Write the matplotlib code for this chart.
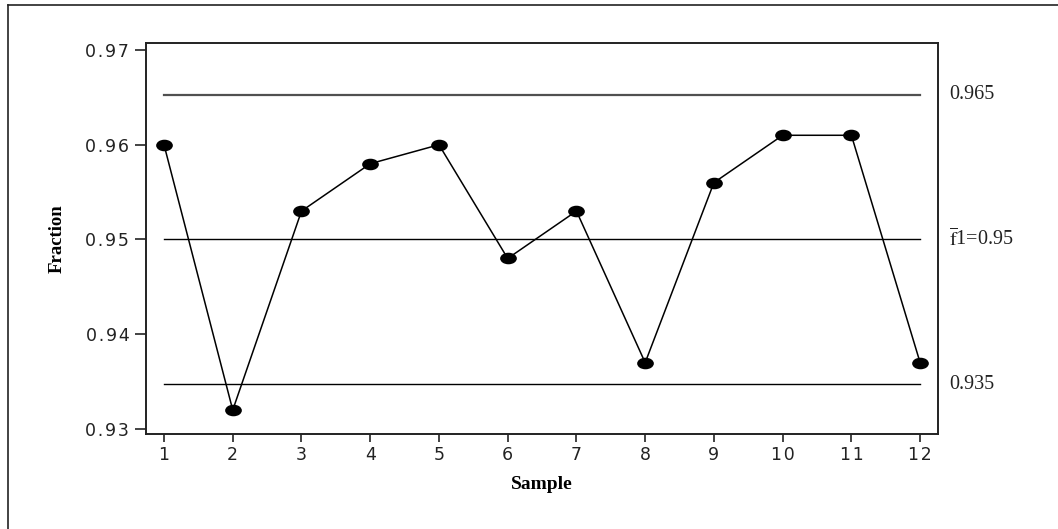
import matplotlib.pyplot as plt
from matplotlib.lines import Line2D
from matplotlib.path import Path
from matplotlib.transforms import Affine2D

# p-chart for fraction conforming per sample
samples = [1, 2, 3, 4, 5, 6, 7, 8, 9, 10, 11, 12]
fraction = [0.960, 0.932, 0.953, 0.958, 0.960, 0.948, 0.953, 0.937, 0.956, 0.961, 0.961, 0.937]
ucl = 0.9653
center = 0.950
lcl = 0.9347
y_ticks = [0.93, 0.94, 0.95, 0.96, 0.97]

plt.rcParams['mathtext.fontset'] = 'stix'
serif = 'Liberation Serif'


def spaced(s):
    # widen the tracking a little with hair spaces
    return '\u200a'.join(s)


fig = plt.figure(figsize=(10.58, 5.29), dpi=100)
ax = fig.add_axes([146 / 1058, 1 - 434 / 529, (938 - 146) / 1058, (434 - 43) / 529])

# frame lines along the left and top of the figure
fig.add_artist(Line2D([8 / 1058, 8 / 1058], [0, 1 - 5 / 529], transform=fig.transFigure, color='#222', lw=1.2))
fig.add_artist(Line2D([8 / 1058, 1], [1 - 5 / 529, 1 - 5 / 529], transform=fig.transFigure, color='#222', lw=1.2))

# control limits
ax.plot([samples[0], samples[-1]], [ucl, ucl], color='#505050', lw=1.6)
ax.plot([samples[0], samples[-1]], [center, center], color='black', lw=1.0)
ax.plot([samples[0], samples[-1]], [lcl, lcl], color='black', lw=1.0)

# flattened dot marker
oval = Path.unit_circle().transformed(Affine2D().scale(1.5, 1.0))
ax.plot(samples, fraction, color='black', lw=1.1, marker=oval, markersize=11,
        markerfacecolor='black', markeredgecolor='black')

ax.set_xlim(0.738, 12.26)
ax.set_ylim(0.92947, 0.97074)
ax.set_xticks(samples)
ax.set_xticklabels([spaced(str(s)) for s in samples])
ax.set_yticks(y_ticks)
ax.set_yticklabels([spaced(f'{v:.2f}') for v in y_ticks])
ax.tick_params(axis='both', direction='out', labelsize=12.5, width=1.2, colors='#222')
ax.tick_params(axis='y', length=8, pad=4)
ax.tick_params(axis='x', length=6, pad=3)
for side in ['left', 'bottom', 'right', 'top']:
    ax.spines[side].set_linewidth(1.4)
    ax.spines[side].set_color('#222')

ax.set_xlabel('Sample', family=serif, fontweight='bold', fontsize=14, labelpad=8)
ax.set_ylabel('Fraction', family=serif, fontweight='bold', fontsize=13.5, labelpad=14)

# limit labels on the right
lab_x = 1.014
ax.text(lab_x, ucl, f'{ucl:.3f}', transform=ax.get_yaxis_transform(), family=serif,
        fontsize=14.5, va='center', ha='left', color='#222')
ax.text(lab_x, center, r'$\overline{\rm f}$' + f'1={center:.2f}', transform=ax.get_yaxis_transform(),
        family=serif, fontsize=14.5, va='center', ha='left', color='#222')
ax.text(lab_x, lcl, f'{lcl:.3f}', transform=ax.get_yaxis_transform(), family=serif,
        fontsize=14.5, va='center', ha='left', color='#222')

fig.savefig('out.png', dpi=100)
